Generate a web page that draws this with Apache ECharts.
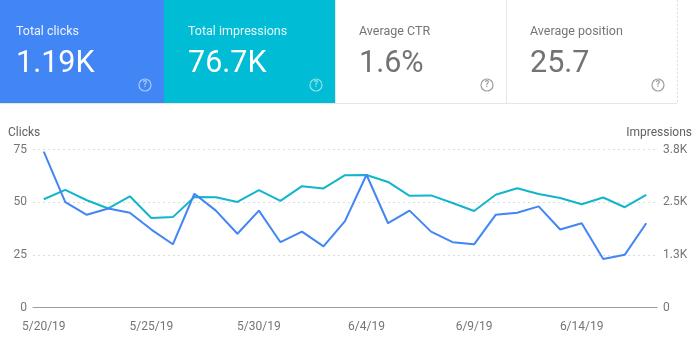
<!DOCTYPE html>
<html><head><meta charset="utf-8">
<script src="https://cdn.jsdelivr.net/npm/echarts@6/dist/echarts.min.js"></script>
<style>html,body{margin:0;padding:0;background:#fff}#c{width:700px;height:345px}</style>
</head><body><div id="c"></div>
<script>
const dates = ['5/20/19','5/21/19','5/22/19','5/23/19','5/24/19','5/25/19','5/26/19','5/27/19','5/28/19','5/29/19','5/30/19','5/31/19','6/1/19','6/2/19','6/3/19','6/4/19','6/5/19','6/6/19','6/7/19','6/8/19','6/9/19','6/10/19','6/11/19','6/12/19','6/13/19','6/14/19','6/15/19','6/16/19','6/17/19'];
const clicks = [74,50,44,47,45,37,30,54,46,35,46,31,36,29,41,63,40,46,36,31,30,44,45,48,37,40,23,25,40];
const impressions = [2570,2790,2545,2350,2640,2125,2145,2625,2615,2505,2785,2530,2880,2825,3140,3145,2980,2650,2660,2480,2290,2675,2830,2695,2600,2450,2610,2380,2675];
const leftTickLabels = ['0','25','50','75'];
const rightTickLabels = ['0','1.3K','2.5K','3.8K'];
const cardTitles = ['Total clicks','Total impressions','Average CTR','Average position'];
const cardValues = ['1.19K','76.7K','1.6%','25.7'];

const FONT = 'Roboto, "Noto Sans", sans-serif';
const cards = [
  {x:0, w:164, pad:16, bg:'#4285f4', title:'rgba(255,255,255,0.9)', val:'#ffffff', icon:'rgba(255,255,255,0.55)'},
  {x:164, w:171, pad:24, bg:'#00bcd4', title:'rgba(255,255,255,0.9)', val:'#ffffff', icon:'rgba(255,255,255,0.55)'},
  {x:335, w:171, pad:24, bg:'#ffffff', title:'#757575', val:'#737373', icon:'#9e9e9e'},
  {x:506, w:171, pad:24, bg:'#ffffff', title:'#757575', val:'#737373', icon:'#9e9e9e'}
];
const graphics = [];
cards.forEach((c,i)=>{
  graphics.push({type:'rect', left:c.x, top:0, shape:{width:c.w, height:103}, style:{fill:c.bg}, silent:true});
  graphics.push({type:'text', left:c.x+c.pad, top:25, style:{text:cardTitles[i], fill:c.title, font:'12.5px '+FONT}});
  graphics.push({type:'text', left:c.x+c.pad, top:49, style:{text:cardValues[i], fill:c.val, font:'30.5px '+FONT}});
  graphics.push({type:'circle', shape:{cx:c.x+c.w-19, cy:85, r:6}, style:{fill:'none', stroke:c.icon, lineWidth:1.2}, silent:true});
  graphics.push({type:'text', x:c.x+c.w-19, y:85, style:{text:'?', fill:c.icon, font:'bold 9px '+FONT, align:'center', verticalAlign:'middle'}});
});
graphics.push({type:'line', shape:{x1:335.5,y1:0,x2:335.5,y2:103}, style:{stroke:'#e6e6e6', lineWidth:1}});
graphics.push({type:'line', shape:{x1:506.5,y1:0,x2:506.5,y2:103}, style:{stroke:'#e6e6e6', lineWidth:1}});
graphics.push({type:'line', shape:{x1:677.5,y1:0,x2:677.5,y2:103}, style:{stroke:'#e0e0e0', lineWidth:1, lineDash:[2,2]}});
graphics.push({type:'line', shape:{x1:0,y1:103.5,x2:677,y2:103.5}, style:{stroke:'#e6e6e6', lineWidth:1}});
graphics.push({type:'text', left:8, top:127, style:{text:'Clicks', fill:'#616161', font:'12px '+FONT}});
graphics.push({type:'text', right:8, top:127, style:{text:'Impressions', fill:'#616161', font:'12px '+FONT}});

const chart = echarts.init(document.getElementById('c'), null, {renderer:'canvas'});
chart.setOption({
  animation:false,
  graphic: graphics,
  grid:{left:33, right:43, top:149.5, bottom:37.5},
  xAxis:{type:'category', data:dates, boundaryGap:true,
    axisLine:{lineStyle:{color:'#9e9e9e', width:1}}, axisTick:{show:false},
    axisLabel:{interval:4, color:'#757575', fontSize:12, fontFamily:FONT, margin:13}},
  yAxis:[
    {type:'value', min:0, max:75, interval:25, position:'left',
     axisLine:{show:false}, axisTick:{show:false},
     axisLabel:{color:'#757575', fontSize:12, fontFamily:FONT, margin:6, formatter:(v,i)=>leftTickLabels[i]},
     splitLine:{lineStyle:{color:'#dcdcdc', type:[2,3]}}},
    {type:'value', min:0, max:3750, interval:1250, position:'right',
     axisLine:{show:false}, axisTick:{show:false},
     axisLabel:{color:'#757575', fontSize:12, fontFamily:FONT, margin:6, formatter:(v,i)=>rightTickLabels[i]},
     splitLine:{show:false}}
  ],
  series:[
    {name:'Impressions', type:'line', yAxisIndex:1, data:impressions, showSymbol:false, symbol:'none',
     lineStyle:{color:'#12b5cb', width:2}, z:2},
    {name:'Clicks', type:'line', yAxisIndex:0, data:clicks, showSymbol:false, symbol:'none',
     lineStyle:{color:'#4285f4', width:2}, z:3}
  ]
});
</script></body></html>
